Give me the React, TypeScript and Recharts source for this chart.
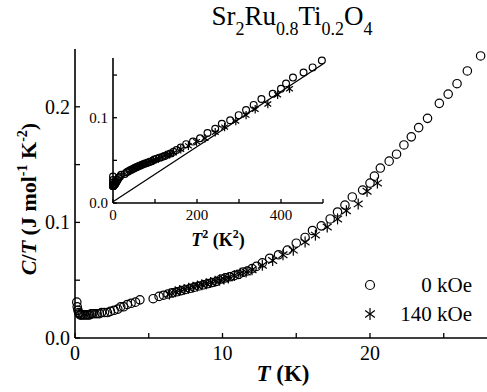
import React from 'react';
import { ScatterChart, ComposedChart, Scatter, Line, XAxis, YAxis } from 'recharts';

const FONT = "'Liberation Serif', 'Times New Roman', Times, serif";
const txt = { fontFamily: FONT };

// 0 kOe run: temperature (K) and C/T (J mol^-1 K^-2)
const tZero = [
  0.12, 0.15, 0.2, 0.25, 0.3, 0.35, 0.4, 0.5, 0.6, 0.7, 0.8, 0.9, 1.0, 1.1, 1.2,
  1.35, 1.5, 1.65, 1.8, 2.0, 2.2, 2.4, 2.65, 2.9, 3.1, 3.3, 3.55, 3.8, 4.1, 4.4,
  5.3, 5.7, 6.0, 6.3, 6.6, 6.9, 7.2, 7.5, 7.8, 8.1, 8.4, 8.7, 9.0, 9.3, 9.6, 9.9,
  10.2, 10.5, 10.8, 11.1, 11.4, 11.7, 12.0, 12.3, 12.7, 13.2, 13.8, 14.4, 15.0,
  15.6, 16.1, 16.7, 17.3, 17.8, 18.3, 18.8, 19.5, 20.0, 20.3, 20.7, 21.3, 21.8,
  22.3, 22.8, 23.3, 23.9, 24.7, 25.3, 25.9, 26.6, 27.5,
];
const ctZero = [
  0.031, 0.027, 0.024, 0.022, 0.021, 0.02, 0.02, 0.02, 0.02, 0.02, 0.02, 0.02, 0.02, 0.021, 0.021,
  0.021, 0.021, 0.021, 0.022, 0.022, 0.022, 0.023, 0.024, 0.025, 0.027, 0.027, 0.029, 0.03, 0.031, 0.033,
  0.034, 0.036, 0.037, 0.038, 0.039, 0.04, 0.041, 0.042, 0.043, 0.044, 0.045, 0.046, 0.047, 0.048, 0.049, 0.051,
  0.052, 0.053, 0.054, 0.055, 0.057, 0.058, 0.06, 0.062, 0.065, 0.069, 0.072, 0.076, 0.082,
  0.087, 0.093, 0.097, 0.103, 0.109, 0.115, 0.122, 0.128, 0.134, 0.14, 0.147, 0.153, 0.159,
  0.167, 0.174, 0.182, 0.19, 0.203, 0.211, 0.22, 0.231, 0.244,
];

// 140 kOe run
const tField = [
  6.4, 6.8, 7.1, 7.4, 7.7, 8.0, 8.3, 8.6, 8.9, 9.2, 9.5, 9.8, 10.1, 10.4, 10.8,
  11.2, 11.6, 12.0, 12.7, 13.4, 14.1, 14.8, 15.6, 16.3, 17.1, 17.8, 18.4, 19.2, 19.8, 20.5,
];
const ctField = [
  0.038, 0.04, 0.041, 0.042, 0.043, 0.044, 0.045, 0.046, 0.047, 0.048, 0.049, 0.05, 0.051, 0.052, 0.054,
  0.056, 0.057, 0.059, 0.063, 0.067, 0.072, 0.076, 0.083, 0.089, 0.096, 0.103, 0.11, 0.116, 0.127, 0.134,
];

// straight line drawn in the inset (T^2 in K^2, C/T)
const fitT2 = [0, 500];
const fitCT = [0.0015, 0.163];

const mainXTicks = [0, 5, 10, 15, 20, 25];
const mainXLabels = ['0', '', '10', '', '20', ''];
const mainYTicks = [0, 0.05, 0.1, 0.15, 0.2];
const mainYLabels = ['0.0', '', '0.1', '', '0.2'];
const insetXTicks = [0, 100, 200, 300, 400, 500];
const insetXLabels = ['0', '', '200', '', '400', ''];
const insetYTicks = [0, 0.05, 0.1, 0.15];
const insetYLabels = ['0.0', '', '0.1', ''];

const zeroData = tZero.map((t, i) => ({ t, ct: ctZero[i] }));
const fieldData = tField.map((t, i) => ({ t, ct: ctField[i] }));
const zeroInset = zeroData.filter((d) => d.t * d.t <= 500).map((d) => ({ t2: d.t * d.t, ct: d.ct }));
const fieldInset = fieldData.filter((d) => d.t * d.t <= 500).map((d) => ({ t2: d.t * d.t, ct: d.ct }));
const fitData = fitT2.map((t2, i) => ({ t2, ct: fitCT[i] }));

const ring = (r: number) => (p: any) => (
  <circle cx={p.cx} cy={p.cy} r={r} fill="none" stroke="#000" strokeWidth={1.2} />
);

const star = (r: number) => (p: any) => {
  const dx = r * Math.cos(Math.PI / 5);
  const dy = r * Math.sin(Math.PI / 5);
  return (
    <g stroke="#000" strokeWidth={1.2}>
      <line x1={p.cx} y1={p.cy - r} x2={p.cx} y2={p.cy + r} />
      <line x1={p.cx - dx} y1={p.cy - dy} x2={p.cx + dx} y2={p.cy + dy} />
      <line x1={p.cx - dx} y1={p.cy + dy} x2={p.cx + dx} y2={p.cy - dy} />
    </g>
  );
};

// inward tick marks with optional labels
const bottomTick = (labels: string[], len: number, fs: number, gap: number) => (p: any) => (
  <g>
    <line x1={p.x} y1={p.y} x2={p.x} y2={p.y - len} stroke="#000" strokeWidth={1.3} />
    {labels[p.index] ? (
      <text x={p.x} y={p.y + gap} textAnchor="middle" fontSize={fs} style={txt} fill="#000">
        {labels[p.index]}
      </text>
    ) : null}
  </g>
);
const leftTick = (labels: string[], len: number, fs: number, gap: number) => (p: any) => (
  <g>
    <line x1={p.x} y1={p.y} x2={p.x + len} y2={p.y} stroke="#000" strokeWidth={1.3} />
    {labels[p.index] ? (
      <text x={p.x - gap} y={p.y + fs * 0.34} textAnchor="end" fontSize={fs} style={txt} fill="#000">
        {labels[p.index]}
      </text>
    ) : null}
  </g>
);
const topTick = (len: number) => (p: any) => (
  <line x1={p.x} y1={p.y} x2={p.x} y2={p.y + len} stroke="#000" strokeWidth={1.3} />
);
const rightTick = (len: number) => (p: any) => (
  <line x1={p.x} y1={p.y} x2={p.x - len} y2={p.y} stroke="#000" strokeWidth={1.3} />
);

const axisLine = { stroke: '#000', strokeWidth: 1.6 };

export default function App() {
  return (
    <div style={{ position: 'absolute', left: 0, top: 0, width: 487, height: 392, overflow: 'hidden', background: '#fff', fontFamily: FONT }}>
      <ScatterChart width={500} height={392} margin={{ top: 49, right: 12, bottom: 0, left: 0 }}>
        <XAxis dataKey="t" type="number" domain={[0, 28]} ticks={mainXTicks} interval={0} height={54}
          axisLine={axisLine} tickLine={false} tickSize={0} tickMargin={0} tick={bottomTick(mainXLabels, 5, 20, 22)} />
        <XAxis xAxisId="top" orientation="top" type="number" domain={[0, 28]} allowDataOverflow ticks={mainXTicks.slice(1)} interval={0} height={0}
          axisLine={axisLine} tickLine={false} tickSize={0} tickMargin={0} tick={topTick(5)} />
        <YAxis dataKey="ct" type="number" domain={[0, 0.25]} ticks={mainYTicks} interval={0} width={75}
          axisLine={axisLine} tickLine={false} tickSize={0} tickMargin={0} tick={leftTick(mainYLabels, 5, 20, 5)} />
        <YAxis yAxisId="right" orientation="right" type="number" domain={[0, 0.25]} allowDataOverflow ticks={mainYTicks.slice(1)} interval={0} width={0}
          axisLine={axisLine} tickLine={false} tickSize={0} tickMargin={0} tick={rightTick(5)} />
        <Scatter data={zeroData} shape={ring(4.2)} isAnimationActive={false} />
        <Scatter data={fieldData} shape={star(5.5)} isAnimationActive={false} />
      </ScatterChart>

      <div style={{ position: 'absolute', left: 80, top: 50 }}>
        <ComposedChart width={250} height={200} margin={{ top: 8, right: 7, bottom: 0, left: 0 }}>
          <XAxis dataKey="t2" type="number" domain={[0, 500]} ticks={insetXTicks} interval={0} height={47}
            axisLine={axisLine} tickLine={false} tickSize={0} tickMargin={0} tick={bottomTick(insetXLabels, 4, 15, 17)} />
          <XAxis xAxisId="top" orientation="top" type="number" domain={[0, 500]} allowDataOverflow ticks={insetXTicks.slice(1, 5)} interval={0} height={0}
            axisLine={axisLine} tickLine={false} tickSize={0} tickMargin={0} tick={topTick(4)} />
          <YAxis dataKey="ct" type="number" domain={[0, 0.17]} ticks={insetYTicks} interval={0} width={33}
            axisLine={axisLine} tickLine={false} tickSize={0} tickMargin={0} tick={leftTick(insetYLabels, 4, 15, 5)} />
          <YAxis yAxisId="right" orientation="right" type="number" domain={[0, 0.17]} allowDataOverflow ticks={insetYTicks.slice(1)} interval={0} width={0}
            axisLine={axisLine} tickLine={false} tickSize={0} tickMargin={0} tick={rightTick(4)} />
          <Line data={fitData} dataKey="ct" stroke="#000" strokeWidth={1.3} dot={false} isAnimationActive={false} />
          <Scatter data={zeroInset} shape={ring(3.4)} isAnimationActive={false} />
          <Scatter data={fieldInset} shape={star(4.2)} isAnimationActive={false} />
        </ComposedChart>
      </div>

      <svg width={487} height={392} style={{ position: 'absolute', left: 0, top: 0, pointerEvents: 'none', fontFamily: FONT }}>
        <text x={292} y={25} textAnchor="middle" fontSize={27} fill="#000">
          Sr<tspan dy={10} fontSize={18}>2</tspan>
          <tspan dy={-10}>Ru</tspan><tspan dy={10} fontSize={18}>0.8</tspan>
          <tspan dy={-10}>Ti</tspan><tspan dy={10} fontSize={18}>0.2</tspan>
          <tspan dy={-10}>O</tspan><tspan dy={10} fontSize={18}>4</tspan>
        </text>
        <text x={0} y={0} transform="translate(36,199) rotate(-90)" textAnchor="middle" fontSize={22} fontWeight="bold" fill="#000">
          <tspan fontStyle="italic">C</tspan>/<tspan fontStyle="italic">T</tspan> (J mol<tspan dy={-9} fontSize={14}>-1</tspan>
          <tspan dy={9}> K</tspan><tspan dy={-9} fontSize={14}>-2</tspan><tspan dy={9}>)</tspan>
        </text>
        <text x={283} y={381} textAnchor="middle" fontSize={23} fontWeight="bold" fill="#000">
          <tspan fontStyle="italic">T</tspan> (K)
        </text>
        <text x={218} y={246} textAnchor="middle" fontSize={18} fontWeight="bold" fill="#000">
          <tspan fontStyle="italic">T</tspan><tspan dy={-8} fontSize={12}>2</tspan>
          <tspan dy={8}> (K</tspan><tspan dy={-8} fontSize={12}>2</tspan><tspan dy={8}>)</tspan>
        </text>
        {ring(4.5)({ cx: 370, cy: 285 })}
        <text x={472} y={292} textAnchor="end" fontSize={21} fill="#000">0 kOe</text>
        {star(6)({ cx: 370, cy: 314 })}
        <text x={472} y={321} textAnchor="end" fontSize={21} fill="#000">140 kOe</text>
      </svg>
    </div>
  );
}
